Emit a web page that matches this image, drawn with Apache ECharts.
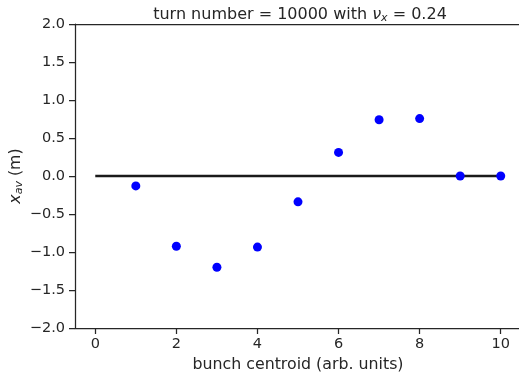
<!DOCTYPE html>
<html><head><meta charset="utf-8">
<script src="https://cdn.jsdelivr.net/npm/echarts@6/dist/echarts.min.js"></script>
<style>html,body{margin:0;padding:0;background:#fff}#c{width:519px;height:377px}</style>
</head><body><div id="c"></div>
<script>
var bunchX = [1, 2, 3, 4, 5, 6, 7, 8, 9, 10];
var xAv = [-0.13, -0.925, -1.2, -0.935, -0.34, 0.31, 0.74, 0.755, 0.0, 0.0];
var refLineX = [0, 10];
var refLineY = [0, 0];
var yTicks = [-2.0, -1.5, -1.0, -0.5, 0.0, 0.5, 1.0, 1.5, 2.0];
var xTicks = [0, 2, 4, 6, 8, 10];

var FONT = 'DejaVu Sans';
var TXT = '#262626';
var chart = echarts.init(document.getElementById('c'), null, {renderer: 'canvas'});
chart.setOption({
  animation: false,
  textStyle: {fontFamily: FONT},
  title: {
    text: '{n|turn number = 10000 with }{g|ν}{s|x}{n| = 0.24}',
    left: 295, textAlign: 'center', top: 0,
    textStyle: {
      fontWeight: 'normal',
      rich: {
        n: {fontFamily: FONT, fontSize: 16, color: TXT, fontWeight: 'normal'},
        g: {fontFamily: FONT, fontSize: 16, color: TXT, fontStyle: 'italic', fontWeight: 'normal'},
        s: {fontFamily: FONT, fontSize: 11, color: TXT, fontStyle: 'italic', fontWeight: 'normal', padding: [8, 0, 0, 0]}
      }
    }
  },
  grid: {left: 75, top: 24, width: 446, height: 304, outerBoundsMode: 'none', containLabel: false},
  xAxis: [{
    type: 'value', min: -0.5, max: 10.5, interval: 2,
    name: 'bunch centroid (arb. units)', nameLocation: 'middle', nameGap: 27,
    nameTextStyle: {fontFamily: FONT, fontSize: 15.8, color: TXT},
    axisLine: {show: true, onZero: false, lineStyle: {color: TXT, width: 1.25}},
    axisTick: {show: true, length: 6, lineStyle: {color: TXT, width: 1.25},
      customValues: xTicks},
    axisLabel: {fontFamily: FONT, fontSize: 14.5, color: TXT, margin: 9, customValues: xTicks,
      formatter: function (v) { return String(v); }},
    splitLine: {show: false}
  }, {
    type: 'value', position: 'top', min: -0.5, max: 10.5,
    axisLine: {show: true, onZero: false, lineStyle: {color: TXT, width: 1.25}},
    axisTick: {show: false}, axisLabel: {show: false}, splitLine: {show: false}
  }],
  yAxis: {
    type: 'value', min: -2, max: 2, interval: 0.5,
    name: '{i|x}{s|av}{n| (m)}', nameLocation: 'middle', nameGap: 50, nameRotate: 90,
    nameMoveOverlap: false,
    nameTextStyle: {
      rich: {
        i: {fontFamily: FONT, fontSize: 15.8, color: TXT, fontStyle: 'italic'},
        s: {fontFamily: FONT, fontSize: 11, color: TXT, fontStyle: 'italic', padding: [8, 0, 0, 0]},
        n: {fontFamily: FONT, fontSize: 15.8, color: TXT}
      }
    },
    axisLine: {show: true, onZero: false, lineStyle: {color: TXT, width: 1.25}},
    axisTick: {show: true, length: 6, lineStyle: {color: TXT, width: 1.25}},
    axisLabel: {fontFamily: FONT, fontSize: 14.5, color: TXT, margin: 10,
      formatter: function (v) { return (v < 0 ? '\u2212' : '') + Math.abs(v).toFixed(1); }},
    splitLine: {show: false}
  },
  series: [
    {
      type: 'line', data: refLineX.map(function (x, i) { return [x, refLineY[i]]; }),
      symbol: 'none', lineStyle: {color: '#1a1a1a', width: 2.5}, z: 2
    },
    {
      type: 'scatter', data: bunchX.map(function (x, i) { return [x, xAv[i]]; }),
      symbolSize: 9, itemStyle: {color: '#0000ff', opacity: 1}, z: 3
    }
  ]
});
</script></body></html>
